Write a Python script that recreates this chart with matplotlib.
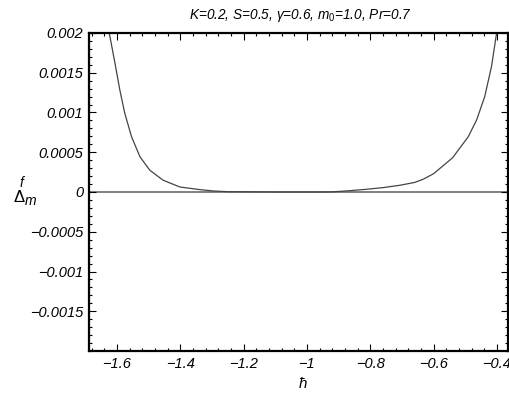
import matplotlib
matplotlib.use("Agg")
import matplotlib.pyplot as plt
from matplotlib.ticker import MultipleLocator, FixedLocator
from matplotlib import font_manager

names = {f.name for f in font_manager.fontManager.ttflist}
fam = ['Liberation Sans Narrow'] if 'Liberation Sans Narrow' in names else ['Liberation Sans']
plt.rcParams['font.family'] = fam + ['DejaVu Sans']
plt.rcParams['mathtext.fontset'] = 'custom'
plt.rcParams['mathtext.rm'] = fam[0]
plt.rcParams['mathtext.it'] = fam[0] + ':italic'

# data
h_vals = [-1.630, -1.624, -1.606, -1.5905, -1.575, -1.5536, -1.527, -1.496, -1.454, -1.401,
          -1.338, -1.296, -1.250, -1.100, -1.000, -0.950, -0.918, -0.870, -0.812, -0.760,
          -0.706, -0.660, -0.633, -0.600, -0.570, -0.540, -0.5222, -0.4907, -0.4642, -0.4385,
          -0.417, -0.401, -0.396]
delta_vals = [0.00215, 0.0020, 0.00162, 0.00128, 0.00099, 0.000694, 0.000442, 0.000274, 0.000148, 0.000063,
              0.00003, 0.000013, 0.000004, 0.0, 0.0, 0.0, 0.000002, 0.000015, 0.000034, 0.000055,
              0.000085, 0.00012, 0.00016, 0.00023, 0.00033, 0.00043, 0.000526, 0.000694, 0.000905, 0.0012,
              0.00158, 0.0020, 0.00215]
x_ticks = [-1.6, -1.4, -1.2, -1.0, -0.8, -0.6, -0.4]
x_labels = ['\u22121.6', '\u22121.4', '\u22121.2', '\u22121', '\u22120.8', '\u22120.6', '\u22120.4']
y_ticks = [-0.0015, -0.001, -0.0005, 0, 0.0005, 0.001, 0.0015, 0.002]
y_labels = ['\u22120.0015', '\u22120.001', '\u22120.0005', '0', '0.0005', '0.001', '0.0015', '0.002']
title = r'$K$=0.2, $S$=0.5, $\gamma$=0.6, $m_0$=1.0, $Pr$=0.7'

fig = plt.figure(figsize=(5.1, 3.94), dpi=100)
ax = fig.add_axes([89/510, 1-351/394, (508-89)/510, (351-33)/394])

ax.axhline(0, color='#808080', lw=1.4, zorder=1)
ax.plot(h_vals, delta_vals, color='#444444', lw=0.9, zorder=2, solid_joinstyle='round')

ax.set_xlim(-1.688, -0.365)
ax.set_ylim(-0.002, 0.002)

ax.xaxis.set_major_locator(FixedLocator(x_ticks))
ax.set_xticklabels(x_labels, fontstyle='italic', fontsize=10.5)
ax.yaxis.set_major_locator(FixedLocator(y_ticks))
ax.set_yticklabels(y_labels, fontstyle='italic', fontsize=10.5)
ax.xaxis.set_minor_locator(MultipleLocator(0.04))
ax.yaxis.set_minor_locator(MultipleLocator(0.0001))
ax.tick_params(which='both', direction='in', top=True, right=True, width=0.8)
ax.tick_params(which='major', length=5, pad=4)
ax.tick_params(which='minor', length=2.5)
for s in ax.spines.values():
    s.set_linewidth(1.6)

fig.text(300/510, 1-15/394, title, ha='center', va='center', fontsize=9.8, fontstyle='italic')
fig.text(303/510, 1-384/394, '\u0127', ha='center', va='center', fontsize=11, fontstyle='italic')
# y label: Delta with sub m and sup f
fig.text(14/510, 1-202/394, '\u0394', ha='left', va='baseline', fontsize=12)
fig.text(24.5/510, 1-205/394, 'm', ha='left', va='baseline', fontsize=10, fontstyle='italic')
fig.text(19.5/510, 1-187/394, 'f', ha='left', va='baseline', fontsize=10, fontstyle='italic')

fig.savefig('out.png', dpi=100)
